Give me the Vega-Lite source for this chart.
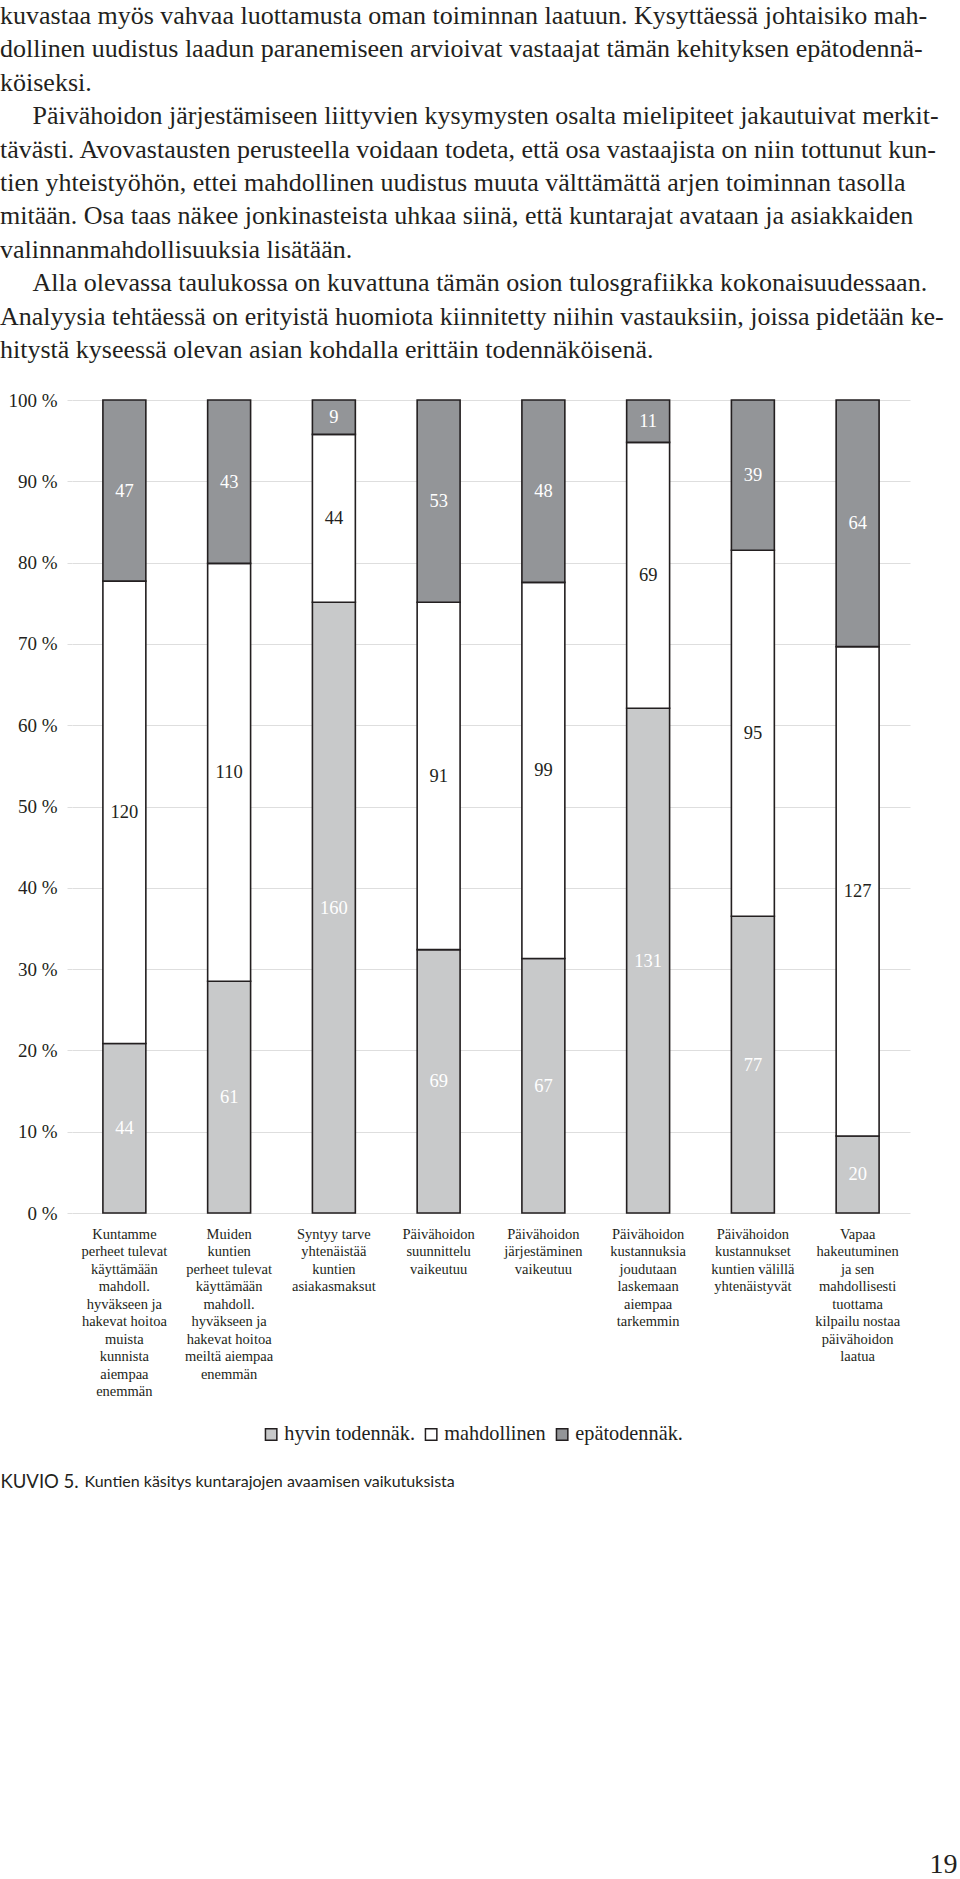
{
  "$schema": "https://vega.github.io/schema/vega-lite/v6.json",
  "width": 838,
  "height": 813,
  "autosize": {"type": "none"},
  "padding": {"left": 72, "top": 400, "right": 50, "bottom": 666},
  "background": "white",
  "config": {"view": {"stroke": null}, "font": "Liberation Serif"},
  "title": {
    "text": [
      "kuvastaa myös vahvaa luottamusta oman toiminnan laatuun. Kysyttäessä johtaisiko mah-",
      "dollinen uudistus laadun paranemiseen arvioivat vastaajat tämän kehityksen epätodennä-",
      "köiseksi.",
      "\u200b\u2003\u2005Päivähoidon järjestämiseen liittyvien kysymysten osalta mielipiteet jakautuivat merkit-",
      "tävästi. Avovastausten perusteella voidaan todeta, että osa vastaajista on niin tottunut kun-",
      "tien yhteistyöhön, ettei mahdollinen uudistus muuta välttämättä arjen toiminnan tasolla",
      "mitään. Osa taas näkee jonkinasteista uhkaa siinä, että kuntarajat avataan ja asiakkaiden",
      "valinnanmahdollisuuksia lisätään.",
      "\u200b\u2003\u2005Alla olevassa taulukossa on kuvattuna tämän osion tulosgrafiikka kokonaisuudessaan.",
      "Analyysia tehtäessä on erityistä huomiota kiinnitetty niihin vastauksiin, joissa pidetään ke-",
      "hitystä kyseessä olevan asian kohdalla erittäin todennäköisenä."
    ],
    "anchor": "start",
    "frame": "group",
    "dx": -72,
    "offset": 2,
    "baseline": "bottom",
    "font": "Liberation Serif",
    "fontSize": 26,
    "fontWeight": "normal",
    "lineHeight": 33.4,
    "color": "#231f20"
  },
  "data": {
    "values": [
      {"q": "Kuntamme|perheet tulevat|käyttämään|mahdoll.|hyväkseen ja|hakevat hoitoa|muista|kunnista|aiempaa|enemmän", "cat": "hyvin todennäk.", "n": 44},
      {"q": "Kuntamme|perheet tulevat|käyttämään|mahdoll.|hyväkseen ja|hakevat hoitoa|muista|kunnista|aiempaa|enemmän", "cat": "mahdollinen", "n": 120},
      {"q": "Kuntamme|perheet tulevat|käyttämään|mahdoll.|hyväkseen ja|hakevat hoitoa|muista|kunnista|aiempaa|enemmän", "cat": "epätodennäk.", "n": 47},
      {"q": "Muiden|kuntien|perheet tulevat|käyttämään|mahdoll.|hyväkseen ja|hakevat hoitoa|meiltä aiempaa|enemmän", "cat": "hyvin todennäk.", "n": 61},
      {"q": "Muiden|kuntien|perheet tulevat|käyttämään|mahdoll.|hyväkseen ja|hakevat hoitoa|meiltä aiempaa|enemmän", "cat": "mahdollinen", "n": 110},
      {"q": "Muiden|kuntien|perheet tulevat|käyttämään|mahdoll.|hyväkseen ja|hakevat hoitoa|meiltä aiempaa|enemmän", "cat": "epätodennäk.", "n": 43},
      {"q": "Syntyy tarve|yhtenäistää|kuntien|asiakasmaksut", "cat": "hyvin todennäk.", "n": 160},
      {"q": "Syntyy tarve|yhtenäistää|kuntien|asiakasmaksut", "cat": "mahdollinen", "n": 44},
      {"q": "Syntyy tarve|yhtenäistää|kuntien|asiakasmaksut", "cat": "epätodennäk.", "n": 9},
      {"q": "Päivähoidon|suunnittelu|vaikeutuu", "cat": "hyvin todennäk.", "n": 69},
      {"q": "Päivähoidon|suunnittelu|vaikeutuu", "cat": "mahdollinen", "n": 91},
      {"q": "Päivähoidon|suunnittelu|vaikeutuu", "cat": "epätodennäk.", "n": 53},
      {"q": "Päivähoidon|järjestäminen|vaikeutuu", "cat": "hyvin todennäk.", "n": 67},
      {"q": "Päivähoidon|järjestäminen|vaikeutuu", "cat": "mahdollinen", "n": 99},
      {"q": "Päivähoidon|järjestäminen|vaikeutuu", "cat": "epätodennäk.", "n": 48},
      {"q": "Päivähoidon|kustannuksia|joudutaan|laskemaan|aiempaa|tarkemmin", "cat": "hyvin todennäk.", "n": 131},
      {"q": "Päivähoidon|kustannuksia|joudutaan|laskemaan|aiempaa|tarkemmin", "cat": "mahdollinen", "n": 69},
      {"q": "Päivähoidon|kustannuksia|joudutaan|laskemaan|aiempaa|tarkemmin", "cat": "epätodennäk.", "n": 11},
      {"q": "Päivähoidon|kustannukset|kuntien välillä|yhtenäistyvät", "cat": "hyvin todennäk.", "n": 77},
      {"q": "Päivähoidon|kustannukset|kuntien välillä|yhtenäistyvät", "cat": "mahdollinen", "n": 95},
      {"q": "Päivähoidon|kustannukset|kuntien välillä|yhtenäistyvät", "cat": "epätodennäk.", "n": 39},
      {"q": "Vapaa|hakeutuminen|ja sen|mahdollisesti|tuottama|kilpailu nostaa|päivähoidon|laatua", "cat": "hyvin todennäk.", "n": 20},
      {"q": "Vapaa|hakeutuminen|ja sen|mahdollisesti|tuottama|kilpailu nostaa|päivähoidon|laatua", "cat": "mahdollinen", "n": 127},
      {"q": "Vapaa|hakeutuminen|ja sen|mahdollisesti|tuottama|kilpailu nostaa|päivähoidon|laatua", "cat": "epätodennäk.", "n": 64}
    ]
  },
  "transform": [
    {"calculate": "indexof(['hyvin todennäk.', 'mahdollinen', 'epätodennäk.'], datum.cat)", "as": "o"},
    {"stack": "n", "groupby": ["q"], "sort": [{"field": "o", "order": "ascending"}], "offset": "normalize", "as": ["y0", "y1"]},
    {"calculate": "(datum.y0 + datum.y1) / 2", "as": "mid"}
  ],
  "layer": [
    {
      "mark": {"type": "bar", "stroke": "#231f20", "strokeWidth": 1.6},
      "encoding": {
        "x": {
          "field": "q",
          "type": "nominal",
          "sort": null,
          "scale": {"paddingInner": 0.59, "paddingOuter": 0.295},
          "axis": {
            "title": "Kuntien käsitys kuntarajojen avaamisen vaikutuksista",
            "titleX": 12,
            "titleY": 268,
            "titleAlign": "left",
            "titleBaseline": "middle",
            "titleFont": "Lato",
            "titleFontSize": 16,
            "titleFontWeight": "normal",
            "titleColor": "#231f20",
            "labelExpr": "split(datum.value, '|')",
            "labelAngle": 0,
            "labelOverlap": false,
            "labelLimit": 200,
            "labelFont": "Liberation Serif",
            "labelFontSize": 14.5,
            "labelLineHeight": 17.5,
            "labelColor": "#231f20",
            "labelPadding": 14,
            "ticks": false,
            "domain": false,
            "grid": false
          }
        },
        "y": {
          "field": "y1",
          "type": "quantitative",
          "scale": {"domain": [0, 1], "nice": false},
          "axis": {
            "values": [0, 0.1, 0.2, 0.3, 0.4, 0.5, 0.6, 0.7, 0.8, 0.9, 1],
            "labelExpr": "round(datum.value * 100) + ' %'",
            "grid": true,
            "gridColor": "#dedede",
            "domain": false,
            "tickColor": "#dedede",
            "tickSize": 5,
            "labelPadding": 10,
            "labelFont": "Liberation Serif",
            "labelFontSize": 19,
            "labelColor": "#231f20",
            "title": "KUVIO 5.",
            "titleAngle": 0,
            "titleX": -72,
            "titleY": 1081,
            "titleAlign": "left",
            "titleBaseline": "middle",
            "titleFont": "Lato",
            "titleFontSize": 18.5,
            "titleFontWeight": "normal",
            "titleColor": "#231f20"
          }
        },
        "y2": {"field": "y0"},
        "fill": {
          "field": "cat",
          "type": "nominal",
          "scale": {"domain": ["hyvin todennäk.", "mahdollinen", "epätodennäk."], "range": ["#c8c9ca", "#ffffff", "#939598"]},
          "legend": {
            "orient": "none",
            "legendX": 189,
            "legendY": 1024,
            "direction": "horizontal",
            "title": null,
            "symbolType": "square",
            "symbolSize": 130,
            "symbolStrokeColor": "#231f20",
            "symbolStrokeWidth": 1.5,
            "symbolOffset": 0,
            "labelFont": "Liberation Serif",
            "labelFontSize": 20.3,
            "labelColor": "#231f20",
            "labelOffset": 3,
            "columnPadding": 6
          }
        }
      }
    },
    {
      "mark": {"type": "text", "font": "Liberation Serif", "fontSize": 18.5},
      "encoding": {
        "x": {"field": "q", "type": "nominal", "sort": null},
        "y": {
          "field": "mid",
          "type": "quantitative",
          "axis": {
            "orient": "right",
            "labels": false,
            "ticks": false,
            "domain": false,
            "grid": false,
            "title": "19",
            "titleX": 19,
            "titleY": 1464,
            "titleAngle": 0,
            "titleAlign": "left",
            "titleBaseline": "middle",
            "titleFont": "Liberation Sans Narrow",
            "titleFontSize": 28,
            "titleFontWeight": "normal",
            "titleColor": "#231f20"
          }
        },
        "text": {"field": "n"},
        "color": {"condition": {"test": "datum.cat === 'mahdollinen'", "value": "#231f20"}, "value": "#ffffff"}
      }
    }
  ],
  "resolve": {"axis": {"y": "independent"}}
}
